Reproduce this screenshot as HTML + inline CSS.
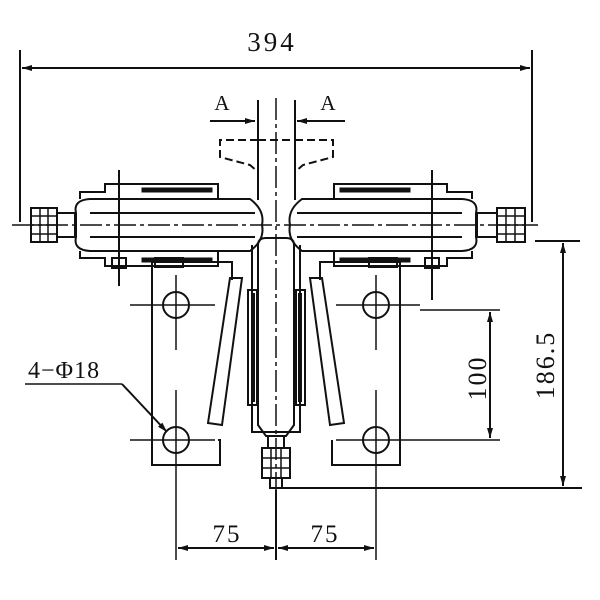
<!DOCTYPE html>
<html><head><style>html,body{margin:0;padding:0;background:#fff}svg{display:block}
text{font-family:"Liberation Serif",serif;fill:#111}</style></head><body>
<svg width="600" height="600" viewBox="0 0 600 600" xmlns="http://www.w3.org/2000/svg">
<defs>
<marker id="a" viewBox="0 0 10 6" refX="10" refY="3" markerWidth="10" markerHeight="6" orient="auto-start-reverse" markerUnits="userSpaceOnUse"><path d="M0,0L10,3L0,6z" fill="#111"/></marker>
</defs>
<g stroke="#111" stroke-width="2" fill="none">
<line x1="20" y1="50" x2="20" y2="222"/>
<line x1="532" y1="50" x2="532" y2="222"/>
<line x1="22" y1="68" x2="530" y2="68" marker-start="url(#a)" marker-end="url(#a)"/>
<line x1="210" y1="121" x2="255" y2="121" marker-end="url(#a)"/>
<line x1="345" y1="121" x2="297" y2="121" marker-end="url(#a)"/>
<line x1="258" y1="100" x2="258" y2="200"/>
<line x1="295" y1="100" x2="295" y2="200"/>
<line x1="276" y1="98" x2="276" y2="490" stroke-dasharray="22,4,4,4" stroke-width="1.5"/>
<path d="M258,140 H220 V157 L250,165 L258,172" stroke-dasharray="8,4"/>
<path d="M295,140 H333 V157 L303,165 L295,172" stroke-dasharray="8,4"/>
<line x1="258" y1="140" x2="295" y2="140" stroke-dasharray="8,4"/>
<line x1="12" y1="225" x2="538" y2="225" stroke-width="1.5" stroke-dasharray="22,4,4,4"/>
<path d="M76,213 Q73,200 90,199 H250 Q265,210 262,225 Q265,240 250,251 H90 Q73,250 76,237 Z"/>
<line x1="90" y1="213" x2="255" y2="213"/>
<line x1="90" y1="237" x2="255" y2="237"/>
<rect x="57" y="213" width="18" height="24"/>
<rect x="31" y="208" width="26" height="34"/>
<path d="M31,216H57M31,225H57M31,234H57M40,208V242M48,208V242" stroke-width="1.5"/>
<path d="M80,199 V192 H105 V184 H218 V199"/>
<path d="M80,251 V258 H105 V266 H218 V251"/>
<rect x="142" y="188" width="70" height="4" fill="#111" stroke-width="1"/>
<rect x="142" y="258" width="70" height="4" fill="#111" stroke-width="1"/>
<line x1="119" y1="170" x2="119" y2="286"/>
<rect x="112" y="258" width="14" height="10"/>
<rect x="155" y="258" width="28" height="9"/>
<path d="M476,213 Q479,200 462,199 H302 Q287,210 290,225 Q287,240 302,251 H462 Q479,250 476,237 Z"/>
<line x1="462" y1="213" x2="297" y2="213"/>
<line x1="462" y1="237" x2="297" y2="237"/>
<rect x="477" y="213" width="20" height="24"/>
<rect x="497" y="208" width="28" height="34"/>
<path d="M497,216H525M497,225H525M497,234H525M506,208V242M515,208V242" stroke-width="1.5"/>
<path d="M472,199 V192 H447 V184 H334 V199"/>
<path d="M472,251 V258 H447 V266 H334 V251"/>
<rect x="340" y="188" width="70" height="4" fill="#111" stroke-width="1"/>
<rect x="340" y="258" width="70" height="4" fill="#111" stroke-width="1"/>
<line x1="432" y1="170" x2="432" y2="300"/>
<rect x="425" y="258" width="14" height="10"/>
<rect x="369" y="258" width="28" height="9"/>
<path d="M152,262 V465 H220 V440 H218"/>
<path d="M152,262 H232 V280"/>
<path d="M400,262 V465 H332 V440"/>
<path d="M400,262 H320 V280"/>
<circle cx="176" cy="305" r="13"/><circle cx="176" cy="440" r="13"/>
<circle cx="376" cy="305" r="13"/><circle cx="376" cy="440" r="13"/>
<g stroke-width="1.5">
<line x1="130" y1="305" x2="215" y2="305"/><line x1="176" y1="275" x2="176" y2="350"/>
<line x1="130" y1="440" x2="215" y2="440"/><line x1="176" y1="390" x2="176" y2="560"/>
<line x1="336" y1="305" x2="420" y2="305"/><line x1="376" y1="275" x2="376" y2="350"/>
<line x1="336" y1="440" x2="500" y2="440"/><line x1="376" y1="390" x2="376" y2="560"/>
<line x1="420" y1="310" x2="500" y2="310"/>
</g>
<path d="M230,278 L242,278 L222,425 L208,423 Z"/>
<path d="M322,278 L310,278 L330,425 L344,423 Z"/>
<path d="M232,262 V278 M320,262 V278"/>
<path d="M258,245 Q258,238 266,238 H286 Q294,238 294,245 V425 L286,436 H266 L258,425 Z"/>
<rect x="248" y="290" width="9" height="115"/>
<rect x="251" y="293" width="4" height="109" fill="#111" stroke="none"/>
<rect x="296" y="290" width="9" height="115"/>
<rect x="298" y="293" width="4" height="109" fill="#111" stroke="none"/>
<path d="M252,245 V432 H300 V245"/>
<rect x="262" y="448" width="28" height="30"/>
<path d="M262,458H290M262,468H290M271,448V478M281,448V478" stroke-width="1.5"/>
<rect x="268" y="436" width="16" height="12"/>
<rect x="270" y="478" width="12" height="10"/>
<line x1="535" y1="241" x2="580" y2="241"/>
<line x1="280" y1="488" x2="582" y2="488"/>
<line x1="563" y1="243" x2="563" y2="486" marker-start="url(#a)" marker-end="url(#a)"/>
<line x1="490" y1="312" x2="490" y2="438" marker-start="url(#a)" marker-end="url(#a)"/>
<line x1="276" y1="490" x2="276" y2="560"/>
<line x1="178" y1="548" x2="274" y2="548" marker-start="url(#a)" marker-end="url(#a)"/>
<line x1="278" y1="548" x2="374" y2="548" marker-start="url(#a)" marker-end="url(#a)"/>
<line x1="25" y1="384" x2="122" y2="384" stroke-width="1.5"/>
<line x1="122" y1="384" x2="167" y2="432" marker-end="url(#a)"/>
</g>
<text x="272" y="51" font-size="27" text-anchor="middle" letter-spacing="3">394</text>
<text x="222" y="110" font-size="21" text-anchor="middle">A</text>
<text x="328" y="110" font-size="21" text-anchor="middle">A</text>
<text x="28" y="378" font-size="24" letter-spacing="1">4−Φ18</text>
<text x="227" y="542" font-size="25" text-anchor="middle" letter-spacing="2">75</text>
<text x="325" y="542" font-size="25" text-anchor="middle" letter-spacing="2">75</text>
<text transform="translate(486,378) rotate(-90)" font-size="26" text-anchor="middle" letter-spacing="2">100</text>
<text transform="translate(554,365) rotate(-90)" font-size="26" text-anchor="middle" letter-spacing="2">186.5</text>
</svg>
</body></html>
